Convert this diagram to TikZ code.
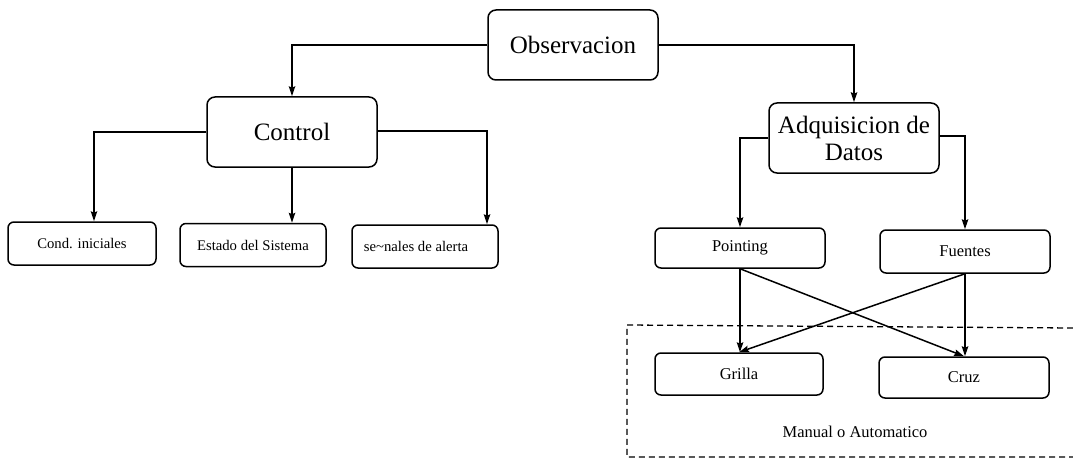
\documentclass[tikz,border=0pt]{standalone}
\usepackage{fontspec}
\setmainfont{Liberation Serif}
\usetikzlibrary{arrows.meta}
\begin{document}
\begin{tikzpicture}[x=1pt,y=-1pt,
  line width=1.5pt,
  bigbox/.style={draw,rounded corners=8pt,minimum width=170pt,minimum height=70pt,
    align=center,font=\fontsize{25}{27}\selectfont,inner sep=2pt},
  leftbox/.style={draw,rounded corners=6pt,minimum width=146pt,minimum height=43pt,
    font=\fontsize{14.7}{17}\selectfont,inner sep=2pt},
  rightbox/.style={draw,rounded corners=6pt,minimum width=170pt,minimum height=41pt,
    font=\fontsize{16.5}{19}\selectfont,inner sep=2pt},
  link/.style={-{Stealth[length=10pt,width=6.5pt,inset=1.5pt]}},
  group/.style={dashed,dash pattern=on 6pt off 4pt,line width=1.3pt}]
\useasboundingbox (0,0) rectangle (1073,468);

% top level
\node[bigbox] (obs) at (573,45) {Observacion};
\node[bigbox] (ctrl) at (292,132) {Control};
\node[bigbox] (adq) at (854,138) {Adquisicion de\\Datos};

% control branch
\node[leftbox,minimum width=148pt] (cond) at (82,243.5) {Cond. iniciales};
\node[leftbox] (estado) at (253,245) {Estado del Sistema};
\node[leftbox] (senales) at (425,246.5) {\hspace*{-18pt}se\textasciitilde nales de alerta};

% acquisition branch
\node[rightbox,minimum height=40pt] (point) at (740,248) {Pointing};
\node[rightbox,minimum height=43pt] (fuen) at (965,251.5) {Fuentes};
\node[rightbox,minimum width=168pt,minimum height=42pt] (grilla) at (739,374) {Grilla};
\node[rightbox] (cruz) at (964,377.5) {Cruz};

% dashed group (open on the right)
\draw[group] (1073,328) -- (627,325) -- (627,457) -- (1073,457);
\node[font=\fontsize{16.5}{19}\selectfont] (modo) at (855,432) {Manual o Automatico};

% connectors
\draw[link] (obs.west) -| (ctrl.north);
\draw[link] (obs.east) -| (adq.north);

\draw[link] (ctrl.west) -| ([xshift=12pt]cond.north);
\draw[link] (ctrl.south) -- (ctrl.south |- estado.north);
\draw[link] ([yshift=1pt]ctrl.east) -| ([xshift=62pt]senales.north);

\draw[link] (adq.west) -| (point.north);
\draw[link] ([yshift=2pt]adq.east) -| (fuen.north);

\draw[link] (point.south) -- (point.south |- grilla.north);
\draw[link] (fuen.south) -- (fuen.south |- cruz.north);
\draw[link] (point.south) -- (cruz.north);
\draw[link] (fuen.south) -- (grilla.north);
\end{tikzpicture}
\end{document}
